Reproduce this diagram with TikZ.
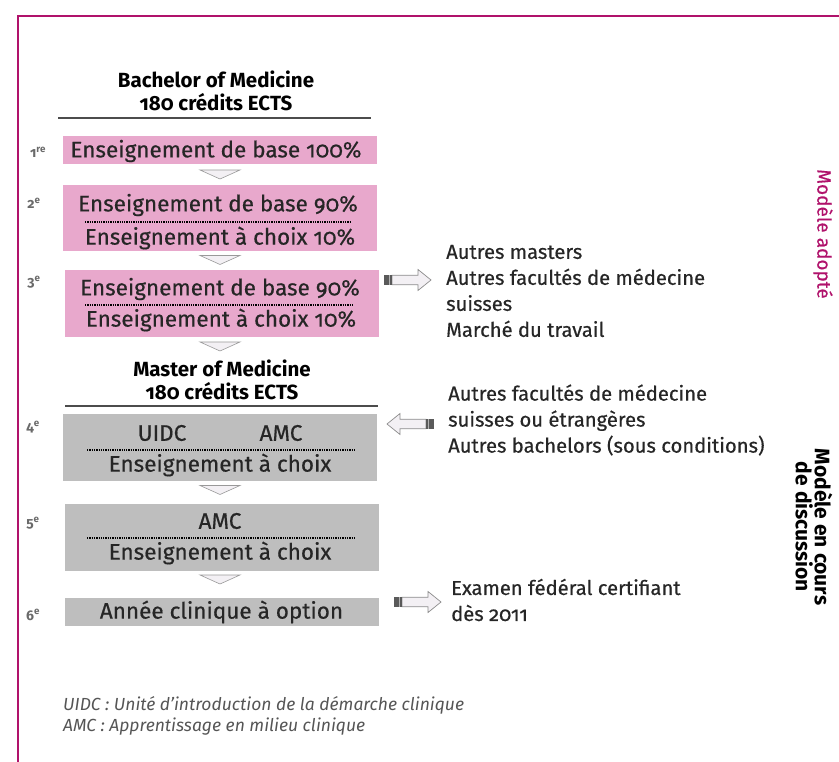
\documentclass[tikz,border=0pt]{standalone}
\usepackage{fontspec}
\setmainfont{Fira Sans}[Numbers=OldStyle]
\newfontfamily\medfont{Fira Sans}[Numbers=OldStyle, FakeBold=0.5]
\usetikzlibrary{positioning}
\definecolor{framemag}{HTML}{B0126B}
\definecolor{pinkfill}{HTML}{E8A8CC}
\definecolor{grayfill}{HTML}{BEBEBE}
\definecolor{trifill}{HTML}{F3F0F4}
\definecolor{stubgray}{HTML}{5A5A5A}
\definecolor{yeargray}{HTML}{6A6A6A}
\definecolor{notegray}{HTML}{555555}
\newcommand\yr[2]{#1\textsuperscript{#2}}
\begin{document}
\begin{tikzpicture}[x=1pt,y=-1pt]
    \tikzset{yearbox/.style = {minimum width=314pt, inner sep=0pt}}
    \tikzset{pinkbox/.style = {yearbox, fill=pinkfill}}
    \tikzset{graybox/.style = {yearbox, fill=grayfill}}
    \tikzset{boxtext/.style = {inner sep=0pt, font=\medfont\fontsize{22.5}{24}\selectfont, text=black!85}}
    \tikzset{header/.style = {align=center, font=\fontsize{20.5}{23}\selectfont\bfseries}}
    \tikzset{yearlabel/.style = {inner sep=0pt, text=yeargray, font=\fontsize{14}{16}\selectfont\bfseries}}
    \tikzset{sidetext/.style = {anchor=west, align=left, inner sep=0pt, text=black!85, font=\medfont\fontsize{20.2}{26}\selectfont}}
    \tikzset{rule/.style = {line width=1.6pt, black!70}}
    \tikzset{split/.style = {densely dotted, line width=1.3pt}}
    \tikzset{tri/.style = {fill=trifill, draw=black!40, line width=0.6pt}}
    \tikzset{fatarrow/.pic = {
        \draw[fill=trifill, draw=black!45, line width=0.7pt] (8,-4.8) -- (34,-4.8) -- (34,-10.5) -- (47,0) -- (34,10.5) -- (34,4.8) -- (8,4.8) -- cycle;
        \fill[stubgray] (0,-4.8) rectangle (8,4.8);
        \fill[black!30] (5,-4.8) rectangle (6.3,4.8);
    }}
    \newcommand\downtri[1]{\draw[tri] (#1) ++(-20,-4.5) -- ++(40,0) -- ++(-20,9) -- cycle;}
    \useasboundingbox (0,0) rectangle (839,762);
    % frame
    \draw[framemag, line width=2pt] (839,16) -- (18,16) -- (18,762);
    % bachelor
    \node[header] (bach) at (216,91) {Bachelor of Medicine\\180 crédits ECTS};
    \draw[rule] (58,118) -- (371,118);
    \node[pinkbox, minimum height=28pt] (b1) at (220,150) {};
    \node[boxtext] (t1) at (216,151) {Enseignement de base 100\%};
    \node[pinkbox, minimum height=66pt] (b2) at (220,218) {};
    \node[boxtext] (t2a) at (218,205) {Enseignement de base 90\%};
    \node[boxtext] (t2b) at (220,238) {Enseignement à choix 10\%};
    \draw[split] (85,222) -- (351,222);
    \node[pinkbox, minimum height=67pt] (b3) at (221.5,303.5) {};
    \node[boxtext] (t3a) at (220,289) {Enseignement de base 90\%};
    \node[boxtext] (t3b) at (221,320) {Enseignement à choix 10\%};
    \draw[split] (85,305) -- (352,305);
    % master
    \node[header] (mast) at (222,380) {Master of Medicine\\180 crédits ECTS};
    \draw[rule] (65,406) -- (378,406);
    \node[graybox, minimum height=67pt] (b4) at (220,447.5) {};
    \node[boxtext] (t4a) at (162,433) {UIDC};
    \node[boxtext] (t4b) at (281,433) {AMC};
    \node[boxtext] (t4c) at (220,465) {Enseignement à choix};
    \draw[split] (87,450) -- (354,450);
    \node[graybox, minimum height=67pt] (b5) at (221.5,537.5) {};
    \node[boxtext] (t5a) at (220,521) {AMC};
    \node[boxtext] (t5b) at (220,553) {Enseignement à choix};
    \draw[split] (87,538) -- (354,538);
    \node[graybox, minimum height=28pt] (b6) at (221.5,612) {};
    \node[boxtext] (t6) at (b6) {Année clinique à option};
    % triangles between the years
    \downtri{220,174.5}
    \downtri{220,260}
    \downtri{220,346.5}
    \downtri{220,490}
    \downtri{220,579.5}
    % years
    \node[yearlabel] (y1) at (38,152) {\yr{1}{re}};
    \node[yearlabel] (y2) at (34,203) {\yr{2}{e}};
    \node[yearlabel] (y3) at (34,282) {\yr{3}{e}};
    \node[yearlabel] (y4) at (33,427) {\yr{4}{e}};
    \node[yearlabel] (y5) at (33,523) {\yr{5}{e}};
    \node[yearlabel] (y6) at (33,615) {\yr{6}{e}};
    % exits and entries
    \pic at (384,280) {fatarrow};
    \node[sidetext] (out1) at (446,291) {Autres masters\\Autres facultés de médecine\\suisses\\Marché du travail};
    \pic[xscale=-1] at (434,424) {fatarrow};
    \node[sidetext] (in4) at (448,420) {Autres facultés de médecine\\suisses ou étrangères\\Autres bachelors (sous conditions)};
    \pic at (394,602) {fatarrow};
    \node[sidetext] (out6) at (451,600) {Examen fédéral certifiant\\dès 2011};
    % models
    \node[rotate=-90, text=framemag, font=\medfont\fontsize{19}{20}\selectfont] (adopt) at (823,234) {Modèle adopté};
    \node[rotate=-90, align=center, font=\fontsize{21}{19}\selectfont\bfseries] (discuss) at (814,527) {Modèle en cours\\de discussion};
    % legend
    \node[anchor=north west, align=left, inner sep=0pt, text=notegray, font=\fontsize{17.5}{21}\selectfont\itshape] (note) at (63,696) {UIDC : Unité d’introduction de la démarche clinique\\AMC : Apprentissage en milieu clinique};
\end{tikzpicture}
\end{document}
